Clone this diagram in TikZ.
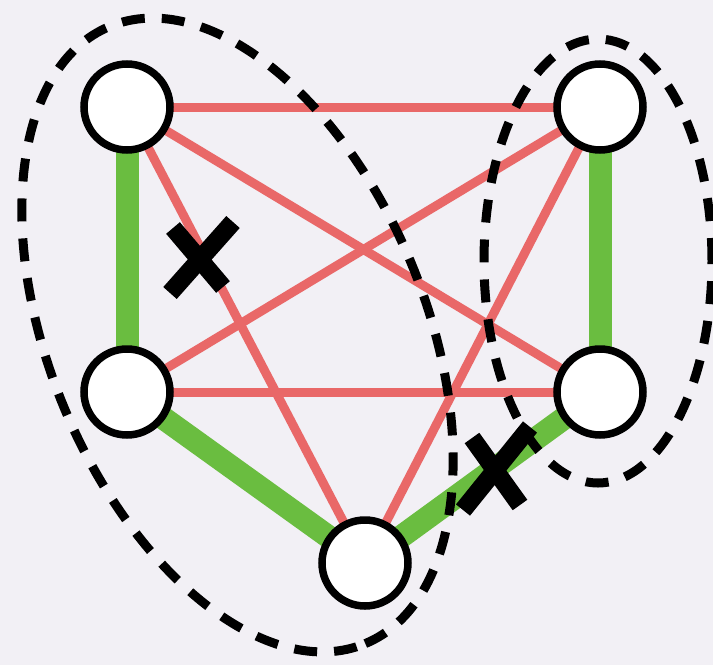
\documentclass[tikz,border=0pt]{standalone}
\usepackage{tikz}
\usetikzlibrary{calc}
\pgfdeclarelayer{background}
\pgfsetlayers{background,main}
\definecolor{paper}{RGB}{242,240,245}
\definecolor{edgered}{RGB}{233,104,104}
\definecolor{edgegreen}{RGB}{106,189,64}

\begin{document}
\begin{tikzpicture}[x=1pt,y=1pt,line cap=butt,
  vert/.style={circle,draw=black,fill=white,line width=7.5pt,minimum size=86pt,inner sep=0pt},
  redge/.style={edgered,line width=9pt},
  gedge/.style={edgegreen,line width=23pt},
  group/.style={black,line width=9pt,dash pattern=on 23pt off 17pt},
  cross/.style={black,line width=18pt}]
  \useasboundingbox (0,0) rectangle (713,-665);
  % the five vertices
  \foreach \n/\x/\y in {tl/127/107,tr/600/107,ml/127/392,mr/600/392,bt/365/563}
    \node[vert] (\n) at (\x,-\y) {};
  \begin{pgfonlayer}{background}
    \fill[paper] (0,0) rectangle (713,-665);
    % kept edges in red, the green path
    \foreach \a/\b in {tl/tr,tl/mr,tl/bt,ml/tr,ml/mr,bt/tr}
      \draw[redge] (\a.center) -- (\b.center);
    \foreach \a/\b in {tl/ml,ml/bt,bt/mr,mr/tr}
      \draw[gedge] (\a.center) -- (\b.center);
  \end{pgfonlayer}
  % the two groups
  \draw[group,rotate around={-67.5:(237.5,-335)}] (237.5,-335) ellipse [x radius=334,y radius=188];
  \draw[group] (598,-261) ellipse [x radius=114,y radius=222];
  % crossed out edges
  \foreach \a/\b/\c/\d in {170/293/233/222,173/228/223/287,463/510/530/427,472/438/520/505}
    \draw[cross] (\a,-\b) -- (\c,-\d);
\end{tikzpicture}
\end{document}
